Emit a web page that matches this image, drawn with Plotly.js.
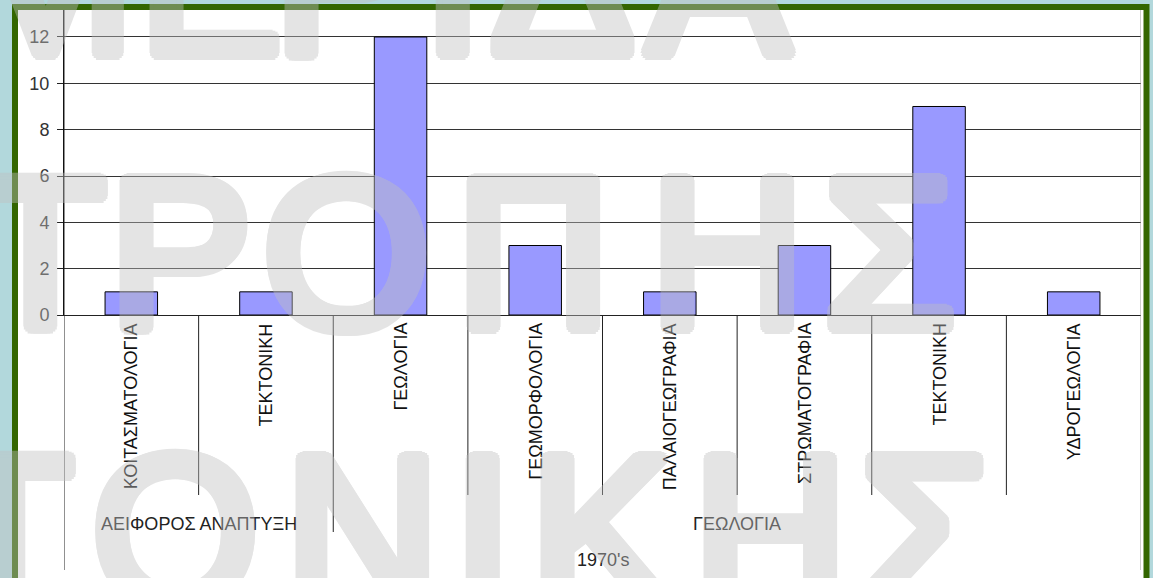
<!DOCTYPE html>
<html>
<head>
<meta charset="utf-8">
<script src="https://cdn.plot.ly/plotly-3.0.1.min.js"></script>
<style>
html,body{margin:0;padding:0;background:#b2d8dc;}
#chart{width:1153px;height:578px;}
</style>
</head>
<body>
<div id="chart"></div>
<script>
// ---- data ----
const categories = ['ΚΟΙΤΑΣΜΑΤΟΛΟΓΙΑ','ΤΕΚΤΟΝΙΚΗ','ΓΕΩΛΟΓΙΑ','ΓΕΩΜΟΡΦΟΛΟΓΙΑ','ΠΑΛΑΙΟΓΕΩΓΡΑΦΙΑ','ΣΤΡΩΜΑΤΟΓΡΑΦΙΑ','ΤΕΚΤΟΝΙΚΗ','ΥΔΡΟΓΕΩΛΟΓΙΑ'];
const values = [1, 1, 12, 3, 1, 3, 9, 1];
const groups = ['ΑΕΙΦΟΡΟΣ ΑΝΑΠΤΥΞΗ', 'ΓΕΩΛΟΓΙΑ'];
const groupSizes = [2, 6];
const period = "1970's";
const yTicks = [0, 2, 4, 6, 8, 10, 12];

// ---- geometry helpers (page pixels -> paper coords) ----
const W = 1153, H = 578;
const M = {l: 64, r: 12, t: 10, b: 263};
const PW = W - M.l - M.r, PH = H - M.t - M.b;
const px = v => (v - M.l) / PW;
const py = v => (H - M.b - v) / PH;

const FONT = 'Liberation Sans, Arial, sans-serif';
const idx = categories.map((c, i) => i);

const shapes = [];
const annotations = [];

// white chart area with green frame
shapes.push({type:'rect', xref:'paper', yref:'paper', layer:'below',
  x0: px(15), x1: px(1146.5), y0: py(581), y1: py(7),
  fillcolor:'#ffffff', line:{color:'#336600', width:6}});

// category labels (rotated)
categories.forEach((c, i) => {
  annotations.push({xref:'x', yref:'paper', x:i, y:0, yshift:-6,
    text:c, textangle:-90, showarrow:false, xanchor:'center', yanchor:'top',
    font:{family:FONT, size:18, color:'#111'}});
});

// dividers between categories / groups / outer
const groupEdges = [];
let acc = 0;
groupSizes.forEach(s => { acc += s; groupEdges.push(acc); });
for (let k = 0; k <= categories.length; k++) {
  const xv = k - 0.5;
  let yb, col = '#222';
  if (k === 0 || k === categories.length) { yb = py(570); }
  else if (groupEdges.includes(k)) { yb = py(532); }
  else { yb = py(495); }
  if (k === categories.length) col = '#9a9a9a';
  shapes.push({type:'line', xref:'x', yref:'paper', x0:xv, x1:xv,
    y0: (k === 0 || k === categories.length) ? 1 : 0, y1: yb,
    line:{color:col, width:1}});
}

// group labels
let start = 0;
groups.forEach((g, j) => {
  const center = start + groupSizes[j] / 2 - 0.5;
  annotations.push({xref:'x', yref:'paper', x:center, y:py(524), text:g,
    showarrow:false, xanchor:'center', yanchor:'middle',
    font:{family:FONT, size:18, color:'#222'}});
  start += groupSizes[j];
});
// period label
annotations.push({xref:'x', yref:'paper', x:(categories.length - 1) / 2, y:py(560),
  text:period, showarrow:false, xanchor:'center', yanchor:'middle',
  font:{family:FONT, size:18, color:'#222'}});

// watermark (decorative, thick rounded strokes via text-shadow)
const wmCol = '#c1c1c1';
const offs = [];
for (let a = 0; a < 16; a++) {
  const t = a * Math.PI / 8;
  offs.push(`${(7 * Math.cos(t)).toFixed(1)}px ${(7 * Math.sin(t)).toFixed(1)}px 0 ${wmCol}`);
  offs.push(`${(3.5 * Math.cos(t)).toFixed(1)}px ${(3.5 * Math.sin(t)).toFixed(1)}px 0 ${wmCol}`);
}
const wmShadow = offs.join(', ');
const wmRows = [
  {cy:-22, letters:[['Μ',45],['Ε',210],['Ρ',345],['Ι',452],['Δ',562],['Α',718]]},
  {cy:252, letters:[['Τ',40],['Ρ',180],['Ο',346],['Π',533],['Η',727],['Σ',889]]},
  {cy:530, letters:[['Τ',8],['Ο',175],['Ν',362],['Ι',483],['Κ',601],['Η',770],['Σ',925]]}
];
wmRows.forEach(r => r.letters.forEach(([ch, cx]) => {
  annotations.push({xref:'paper', yref:'paper', x:px(cx), y:py(r.cy), text:ch,
    showarrow:false, xanchor:'center', yanchor:'middle', opacity:0.42,
    font:{family:FONT, size:214, color:wmCol, shadow:wmShadow}});
}));

const trace = {
  type:'bar', x: idx, y: values, width: 0.39,
  marker:{color:'#9999ff', line:{color:'#000', width:1}},
  hoverinfo:'skip'
};

const layout = {
  width: W, height: H,
  margin: M,
  paper_bgcolor:'#b2d8dc',
  plot_bgcolor:'#ffffff',
  showlegend:false,
  font:{family:FONT, size:18, color:'#222'},
  xaxis:{type:'linear', range:[-0.5, categories.length - 0.5], showticklabels:false,
    showgrid:false, zeroline:false, showline:true, linecolor:'#222', linewidth:1, ticks:''},
  yaxis:{range:[0, 13.165], tickvals:yTicks, ticktext:yTicks.map(String),
    showgrid:true, gridcolor:'#333', gridwidth:1, zeroline:false,
    showline:true, linecolor:'#111', linewidth:1,
    ticks:'outside', ticklen:6, tickcolor:'#222', tickwidth:1,
    ticklabelstandoff:4,
    tickfont:{family:FONT, size:18, color:'#333'}},
  shapes: shapes,
  annotations: annotations
};

Plotly.newPlot('chart', [trace], layout, {displayModeBar:false, staticPlot:true});
</script>
</body>
</html>
